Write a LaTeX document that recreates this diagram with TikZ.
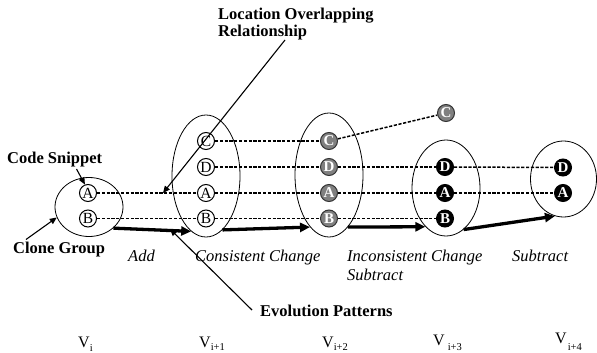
\documentclass[tikz,border=0pt]{standalone}
\usepackage{fontspec}
\setmainfont{Liberation Serif}
\usetikzlibrary{shapes.geometric,arrows.meta}
\newcommand\vsub[2]{\raisebox{#1}{\fontsize{10.5}{10.5}\selectfont #2}}
\begin{document}
\begin{tikzpicture}[x=1pt,y=-1pt,
  grp/.style={draw,ellipse,inner sep=0pt,line width=0.8pt},
  snip/.style={circle,draw,line width=1pt,minimum size=17pt,inner sep=0pt},
  snipw/.style={snip,fill=white,font=\fontsize{15.5}{15.5}\selectfont},
  snipg/.style={snip,fill=gray,draw=black!80,text=white,font=\bfseries\fontsize{15}{15}\selectfont},
  snipb/.style={snip,fill=black,text=white,font=\bfseries\fontsize{15}{15}\selectfont},
  link/.style={dash pattern=on 3.2pt off 1.6pt,line width=1.5pt},
  evo/.style={line width=3.3pt,-{Triangle[length=10pt,width=9pt]}},
  note/.style={line width=1.1pt,-{Triangle[length=7pt,width=6pt]}},
  lbl/.style={font=\bfseries\fontsize{16.5}{16.5}\selectfont,inner sep=0pt,anchor=base west},
  pat/.style={font=\itshape\fontsize{16.5}{19.5}\selectfont,inner sep=0pt,anchor=base west},
  ver/.style={font=\fontsize{16}{16}\selectfont,inner sep=0pt,anchor=base west}]
\useasboundingbox (0,0) rectangle (597,353);
% clone groups
\node[grp,minimum width=68pt,minimum height=59pt] (g1) at (89,207) {};
\node[grp,minimum width=68pt,minimum height=122pt] (g2) at (206,176) {};
\node[grp,minimum width=68pt,minimum height=124pt] (g3) at (329,175) {};
\node[grp,minimum width=68pt,minimum height=96pt] (g4) at (446,188) {};
\node[grp,minimum width=66pt,minimum height=76pt] (g5) at (563.5,179) {};
% snippets
\node[snipw] (a1) at (88,193) {A};
\node[snipw] (b1) at (88,218.5) {B};
\node[snipw] (c2) at (206,141) {C};
\node[snipw] (d2) at (206,167) {D};
\node[snipw] (a2) at (206,193) {A};
\node[snipw] (b2) at (206,218.5) {B};
\node[snipg] (c3) at (329,141) {C};
\node[snipg] (d3) at (329,167) {D};
\node[snipg] (a3) at (329,193) {A};
\node[snipg] (b3) at (329,218.5) {B};
\node[snipg] (cx) at (446,113) {C};
\node[snipb] (d4) at (445,167) {D};
\node[snipb] (a4) at (445,193) {A};
\node[snipb] (b4) at (445,218.5) {B};
\node[snipb] (d5) at (563,167.5) {D};
\node[snipb] (a5) at (563,193) {A};
% dashed links
\draw[link] (a1) -- (a2);
\draw[link] (a2) -- (a3);
\draw[link] (a3) -- (a4);
\draw[link] (a4) -- (a5);
\draw[link] (b1) -- (b2);
\draw[link] (b2) -- (b3);
\draw[link] (b3) -- (b4);
\draw[link] (c2) -- (c3);
\draw[link] (c3) -- (cx);
\draw[link] (d2) -- (d3);
\draw[link] (d3) -- (d4);
\draw[link] (d4) -- (d5);
% evolution arrows
\draw[evo] (g1.-41) -- (g2.-105);
\draw[evo] (g2.-73) -- (g3.-110);
\draw[evo] (g3.-70) -- (g4.-118);
\draw[evo] (g4.-67) -- (g5.-103);
% labels
\node[lbl] (cs) at (7,163.5) {Code Snippet};
\node[lbl] (cg) at (13,253.5) {Clone Group};
\node[lbl,anchor=north west,align=left] (loc) at (218,8) {Location Overlapping\\Relationship};
\node[lbl] (ep) at (260,316.5) {Evolution Patterns};
\node[pat] (add) at (128,261) {Add};
\node[pat] (cc) at (195,261) {Consistent Change};
\node[pat,anchor=north west,align=left] (ic) at (347,249.5) {Inconsistent Change\\Subtract};
\node[pat] (sub) at (512,261) {Subtract};
% versions
\node[ver] (v0) at (78,347) {V\vsub{-4pt}{i}};
\node[ver] (v1) at (199,347) {V\vsub{-3.5pt}{i+1}};
\node[ver] (v2) at (322,347) {V\vsub{-3.5pt}{i+2}};
\node[ver] (v3) at (433,345) {V\kern3pt\vsub{-5pt}{i+3}};
\node[ver] (v4) at (555,343.5) {V\kern1pt\vsub{-6.5pt}{i+4}};
% annotation arrows
\coordinate (csp) at (76.5,169);
\draw[note] (csp) -- (a1.110);
\coordinate (cgp) at (26,239.5);
\draw[note] (cgp) -- (g1.198);
\coordinate (locp) at (285,40);
\coordinate (loct) at (163,193);
\draw[note] (locp) -- (loct);
\coordinate (epp) at (252,310);
\coordinate (ept) at (170,229);
\draw[note] (epp) -- (ept);
\end{tikzpicture}
\end{document}
